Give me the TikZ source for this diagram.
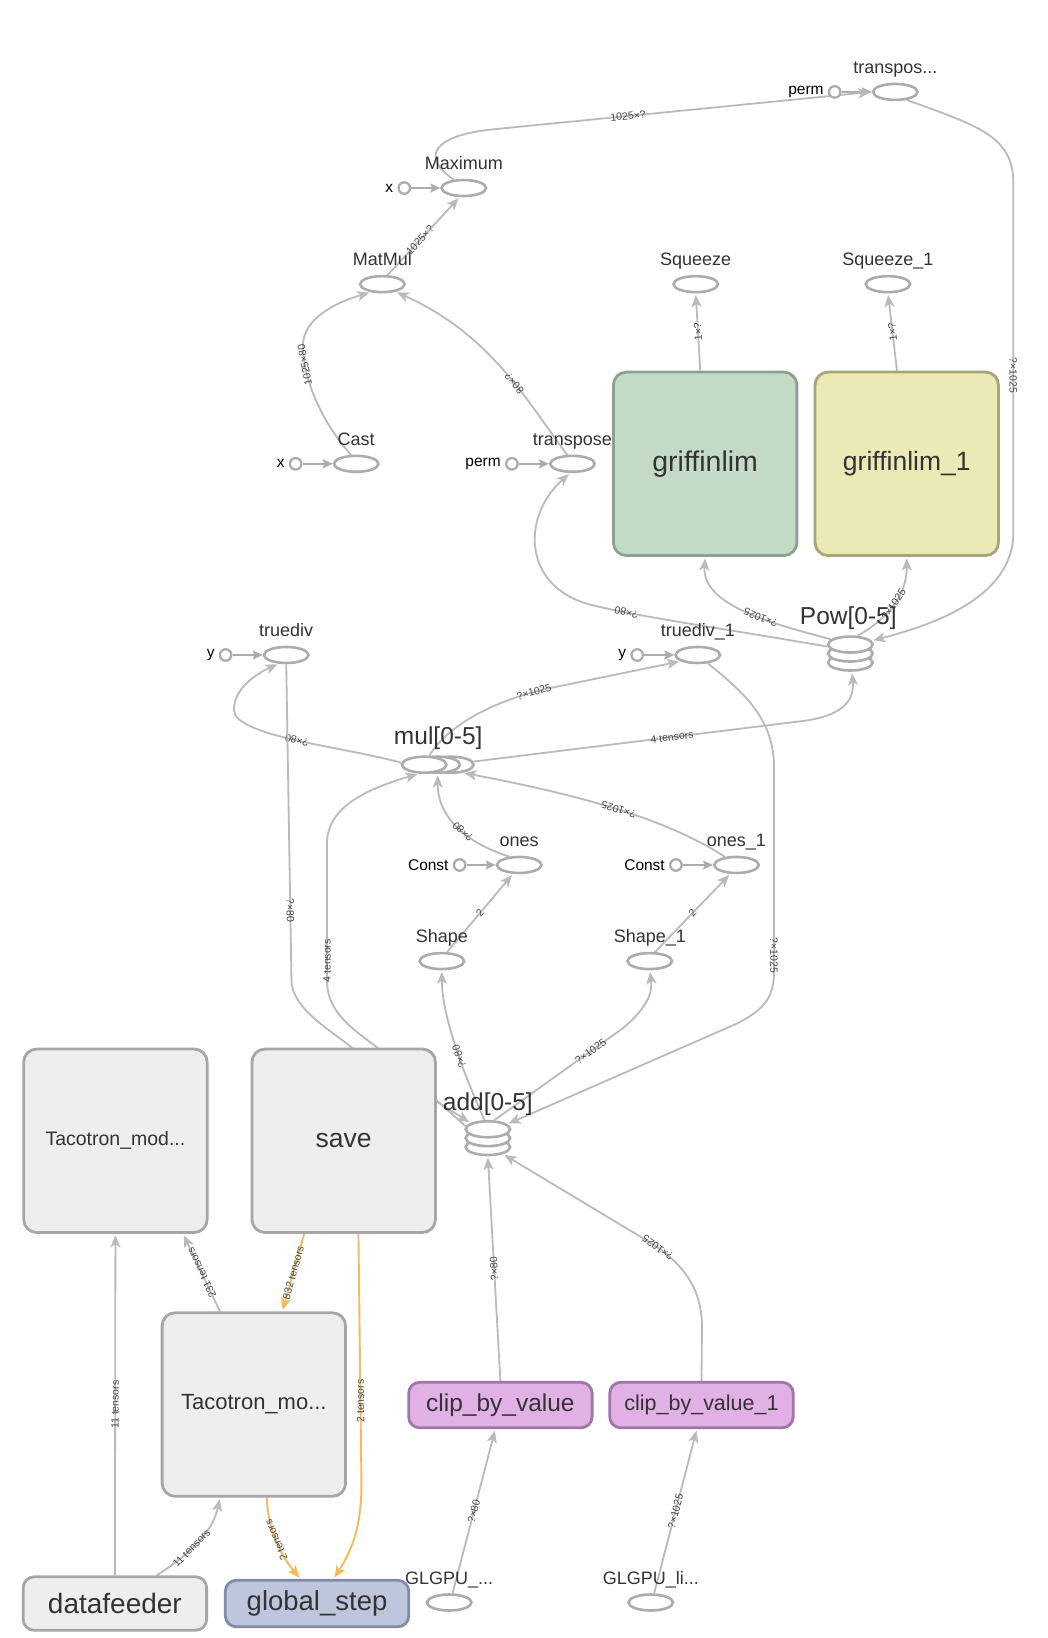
\documentclass[tikz,border=0pt]{standalone}
\usepackage{fontspec}
\setmainfont{Liberation Sans}
\usetikzlibrary{arrows.meta,shapes.geometric}
\pgfdeclarelayer{bg}
\pgfdeclarelayer{wires}
\pgfsetlayers{bg,wires,main}

\definecolor{edgegray}{RGB}{186,186,186}
\definecolor{opline}{RGB}{172,172,172}
\definecolor{txt}{RGB}{51,51,51}
\definecolor{lbltxt}{RGB}{70,70,70}
\definecolor{boxfill}{RGB}{238,238,238}
\definecolor{boxline}{RGB}{166,166,166}
\definecolor{greenfill}{RGB}{195,219,198}
\definecolor{greenline}{RGB}{140,162,142}
\definecolor{yellowfill}{RGB}{235,233,181}
\definecolor{yellowline}{RGB}{168,166,120}
\definecolor{bluefill}{RGB}{189,198,220}
\definecolor{blueline}{RGB}{128,140,166}
\definecolor{pinkfill}{RGB}{225,176,228}
\definecolor{pinkline}{RGB}{160,118,166}
\definecolor{refline}{RGB}{246,187,88}

\tikzset{
  op/.style={ellipse, draw=opline, line width=2.6pt, fill=white,
    minimum width=44.5pt, minimum height=16pt, inner sep=0pt},
  inport/.style={circle, draw=opline, line width=2.3pt, fill=white,
    minimum size=11.5pt, inner sep=0pt},
  oplbl/.style={font=\fontsize{18}{20}\selectfont, text=txt, inner sep=0pt,
    text height=13pt, text depth=4pt},
  inlbl/.style={font=\fontsize{15.5}{17}\selectfont, text=black, inner sep=0pt},
  stacklbl/.style={font=\fontsize{24.5}{27}\selectfont, text=txt, inner sep=0pt, anchor=base},
  wire/.style={draw=edgegray, line width=1.8pt,
    -{Stealth[length=12pt,width=10pt,inset=3pt]}, shorten >=1.5pt},
  refwire/.style={draw=refline, line width=1.9pt,
    {Stealth[length=12pt,width=10pt,inset=3pt]}-, shorten <=1.5pt},
  inwire/.style={draw=opline, line width=1.9pt,
    -{Stealth[length=10pt,width=9pt,inset=2pt]}},
  elbl/.style={font=\fontsize{10.5}{12}\selectfont, text=lbltxt, sloped,
    allow upside down, inner sep=0pt},
  grp/.style={rectangle, rounded corners=13pt, line width=2.8pt,
    minimum width=183.5pt, minimum height=183.5pt, text=txt, inner sep=0pt},
  tag/.style={rectangle, rounded corners=11pt, line width=2.8pt,
    minimum width=183.5pt, minimum height=45.5pt, text=txt, inner sep=0pt},
}

\begin{document}
\begin{tikzpicture}[x=1.0449pt, y=-1.0449pt]

\begin{pgfonlayer}{bg}
  \fill[white] (0,0) rectangle (1003,1568);
\end{pgfonlayer}
\useasboundingbox (0,0) rectangle (1003,1568);

% ---------- operation nodes ----------
\node[op, label={[oplbl,label distance=5pt]above:transpos...}] (transpos) at (857,88) {};
\node[op, label={[oplbl,label distance=5pt]above:Maximum}] (Maximum) at (444,180) {};
\node[op, label={[oplbl,label distance=5pt]above:MatMul}] (MatMul) at (366,272) {};
\node[op, label={[oplbl,label distance=5pt]above:Squeeze}] (Squeeze) at (666,272) {};
\node[op, label={[oplbl,label distance=5pt]above:Squeeze\_1}] (Squeeze1) at (850,272) {};
\node[op, label={[oplbl,label distance=5pt]above:Cast}] (Cast) at (341,444) {};
\node[op, label={[oplbl,label distance=5pt]above:transpose}] (transpose) at (548,444) {};
\node[op, label={[oplbl,label distance=5pt]above:truediv}] (truediv) at (274,627) {};
\node[op, label={[oplbl,label distance=5pt]above:truediv\_1}] (truediv1) at (668,627) {};
\node[op, label={[oplbl,label distance=5pt]above:ones}] (ones) at (497,828) {};
\node[op, label={[oplbl,label distance=5pt]above:ones\_1}] (ones1) at (705,828) {};
\node[op, label={[oplbl,label distance=5pt]above:Shape}] (Shape) at (423,920) {};
\node[op, label={[oplbl,label distance=5pt]above:Shape\_1}] (Shape1) at (622,920) {};
\node[op, label={[oplbl,label distance=5pt]above:GLGPU\_...}] (glgpu) at (430,1534) {};
\node[op, label={[oplbl,label distance=5pt]above:GLGPU\_li...}] (glgpuli) at (623,1534) {};

% ---------- series (stacked) nodes ----------
\node[op] (powc) at (814,634.2) {};
\node[op] (powb) at (814,625.6) {};
\node[op] (pow)  at (814,617) {};
\node[stacklbl] (powlbl) at (812,598) {Pow[0-5]};

\node[op] (mulc) at (432,732) {};
\node[op] (mulb) at (419,732) {};
\node[op] (mul)  at (406,732) {};
\node[stacklbl] (mullbl) at (419.5,713) {mul[0-5]};

\node[op] (addc) at (467,1098) {};
\node[op] (addb) at (467,1089.5) {};
\node[op] (add)  at (467,1081) {};
\node[stacklbl] (addlbl) at (467,1063) {add[0-5]};

% ---------- input ports ----------
\node[inport, label={[inlbl,label distance=4pt]left:perm}] (permA) at (799,88) {};
\node[inport, label={[inlbl,label distance=4pt]left:x}] (xA) at (387,180) {};
\node[inport, label={[inlbl,label distance=4pt]left:x}] (xB) at (283,444) {};
\node[inport, label={[inlbl,label distance=4pt]left:perm}] (permB) at (490,444) {};
\node[inport, label={[inlbl,label distance=4pt]left:y}] (yA) at (216,627) {};
\node[inport, label={[inlbl,label distance=4pt]left:y}] (yB) at (610,627) {};
\node[inport, label={[inlbl,label distance=4pt]left:Const}] (constA) at (440,828) {};
\node[inport, label={[inlbl,label distance=4pt]left:Const}] (constB) at (647,828) {};

% ---------- group boxes ----------
\node[grp, draw=greenline, fill=greenfill, font=\fontsize{28.5}{30}\selectfont] (griffinlim) at (675,444) {griffinlim};
\node[grp, draw=yellowline, fill=yellowfill, font=\fontsize{26.5}{30}\selectfont] (griffinlim1) at (868,444) {griffinlim\_1};
\node[grp, draw=boxline, fill=boxfill, font=\fontsize{19.5}{22}\selectfont] (tmod) at (110.5,1092) {Tacotron\_mod...};
\node[grp, draw=boxline, fill=boxfill, font=\fontsize{26.5}{30}\selectfont] (save) at (329,1092) {save};
\node[grp, draw=boxline, fill=boxfill, font=\fontsize{22}{25}\selectfont] (tmo) at (243,1344.5) {Tacotron\_mo...};

\node[tag, draw=boxline, fill=boxfill, minimum height=53.5pt, font=\fontsize{28}{30}\selectfont] (datafeeder) at (110,1535) {datafeeder};
\node[tag, draw=blueline, fill=bluefill, minimum height=46.5pt, font=\fontsize{27.5}{30}\selectfont] (globalstep) at (303.5,1535) {global\_step};
\node[tag, draw=pinkline, fill=pinkfill, font=\fontsize{24.5}{27}\selectfont] (clip) at (479,1345) {clip\_by\_value};
\node[tag, draw=pinkline, fill=pinkfill, font=\fontsize{21.5}{24}\selectfont] (clip1) at (671.5,1345) {clip\_by\_value\_1};

% ---------- connectors ----------
\begin{pgfonlayer}{wires}
  % constant inputs
  \draw[inwire] (permA.east) -- (transpos.west);
  \draw[inwire] (xA.east) -- (Maximum.west);
  \draw[inwire] (xB.east) -- (Cast.west);
  \draw[inwire] (permB.east) -- (transpose.west);
  \draw[inwire] (yA.east) -- (truediv.west);
  \draw[inwire] (yB.east) -- (truediv1.west);
  \draw[inwire] (constA.east) -- (ones.west);
  \draw[inwire] (constB.east) -- (ones1.west);

  % upper part
  \draw[wire] (Maximum.140) .. controls (402,150) and (415,130) .. (470,124)
     -- node[elbl,pos=0.36]{1025×?} (transpos.west);
  \draw[wire] (MatMul.60) -- node[elbl,pos=0.45]{1025×?} (Maximum.245);
  \draw[wire] (Cast.120) .. controls (300,395) and (289,350) .. node[elbl,pos=0.75]{1025×80} (290,330)
     .. controls (291,305) and (320,290) .. (MatMul.215);
  \draw[wire] (transpose.120) .. controls (505,385) and (470,320) .. node[elbl,pos=0.42]{80×?} (MatMul.330);
  \draw[wire] (transpos.-35) .. controls (935,120) and (970,130) .. (970,175)
     -- node[elbl,pos=0.55]{?×1025} (970,510)
     .. controls (970,575) and (885,600) .. (pow.10);
  \draw[wire] (griffinlim.93) -- node[elbl]{1×?} (Squeeze.south);
  \draw[wire] (griffinlim1.96) -- node[elbl]{1×?} (Squeeze1.south);

  % Pow outputs
  \draw[wire] (pow.165) .. controls (740,597) and (672,580) .. node[elbl,pos=0.4]{?×1025} (griffinlim.south);
  \draw[wire] (pow.50) .. controls (850,592) and (868,570) .. node[elbl,pos=0.5]{?×1025} (griffinlim1.south);
  \draw[wire] (pow.185) .. controls (700,603) and (610,590) .. node[elbl,pos=0.8]{?×80} (570,580)
     .. controls (500,565) and (498,495) .. (transpose.255);

  % mul outputs
  \draw[wire] (mul.175) .. controls (330,715) and (225,705) .. node[elbl,pos=0.5]{?×80} (224,680)
     .. controls (223,660) and (245,645) .. (truediv.230);
  \draw[wire] (mul.60) .. controls (425,700) and (460,675) .. node[elbl,pos=0.95]{?×1025} (520,660)
     -- (truediv1.200);
  \draw[wire] (mulc.8) -- node[elbl,pos=0.6]{4 tensors} (770,690)
     .. controls (805,685) and (818,672) .. (powc.-80);

  % truediv -> add, add -> mul (passing behind save)
  \draw[wire] (truediv.south) -- node[elbl,pos=0.78]{?×80} (279,938)
     .. controls (279,965) and (315,985) .. (337,1003) -- (add.160);
  \draw[wire] (add.172) -- (359,1001) .. controls (330,980) and (313,965) .. (313,938)
     -- node[elbl,pos=0.14]{4 tensors} (313,808)
     .. controls (313,775) and (345,757) .. (mul.240);

  % ones -> mul
  \draw[wire] (ones.140) .. controls (450,808) and (419,785) .. node[elbl,pos=0.45]{?×80} (mulb.south);
  \draw[wire] (ones1.145) .. controls (640,785) and (560,762) .. node[elbl,pos=0.5]{?×1025} (mulc.-35);

  % Shape -> ones
  \draw[wire] (Shape.60) -- node[elbl]{2} (ones.235);
  \draw[wire] (Shape1.60) -- node[elbl]{2} (ones1.235);

  % add -> Shape
  \draw[wire] (add.110) .. controls (447,1035) and (423,975) .. node[elbl,pos=0.45]{?×80} (Shape.south);
  \draw[wire] (add.55) -- node[elbl,pos=0.74]{?×1025} (598,983)
     .. controls (618,965) and (625,952) .. (Shape1.south);

  % truediv_1 -> add
  \draw[wire] (truediv1.-40) .. controls (715,665) and (741,690) .. (741,735)
     -- node[elbl,pos=0.92]{?×1025} (741,930)
     .. controls (741,958) and (728,968) .. (705,980) -- (add.15);

  % clip -> add
  \draw[wire] (clip.north) -- node[elbl]{?×80} (addc.south);
  \draw[wire] (clip1.north) -- (672,1270) .. controls (672,1230) and (650,1205) .. node[elbl,pos=0.85]{?×1025} (615,1185)
     -- (addc.-25);

  % GLGPU -> clip
  \draw[wire] (glgpu.70) -- node[elbl]{?×80} (clip.-102);
  \draw[wire] (glgpuli.70) -- node[elbl]{?×1025} (clip1.-101);

  % lower groups
  \draw[wire] (tmo.110) -- node[elbl]{231 tensors} (tmod.-54);
  \draw[wire] (datafeeder.north) -- node[elbl]{11 tensors} (tmod.south);
  \draw[wire] (datafeeder.34) .. controls (175,1492) and (203,1470) .. node[elbl,pos=0.45]{11 tensors} (tmo.-110);

  % reference edges
  \draw[refwire] (tmo.73) -- node[elbl]{832 tensors} (save.-113);
  \draw[refwire] (globalstep.56) .. controls (338,1482) and (346,1460) .. (346,1420)
     -- node[elbl,pos=0.33]{2 tensors} (save.-81);
  \draw[refwire] (globalstep.124) .. controls (268,1488) and (256,1462) .. node[elbl,pos=0.5]{2 tensors} (tmo.-82);
\end{pgfonlayer}

\end{tikzpicture}
\end{document}
